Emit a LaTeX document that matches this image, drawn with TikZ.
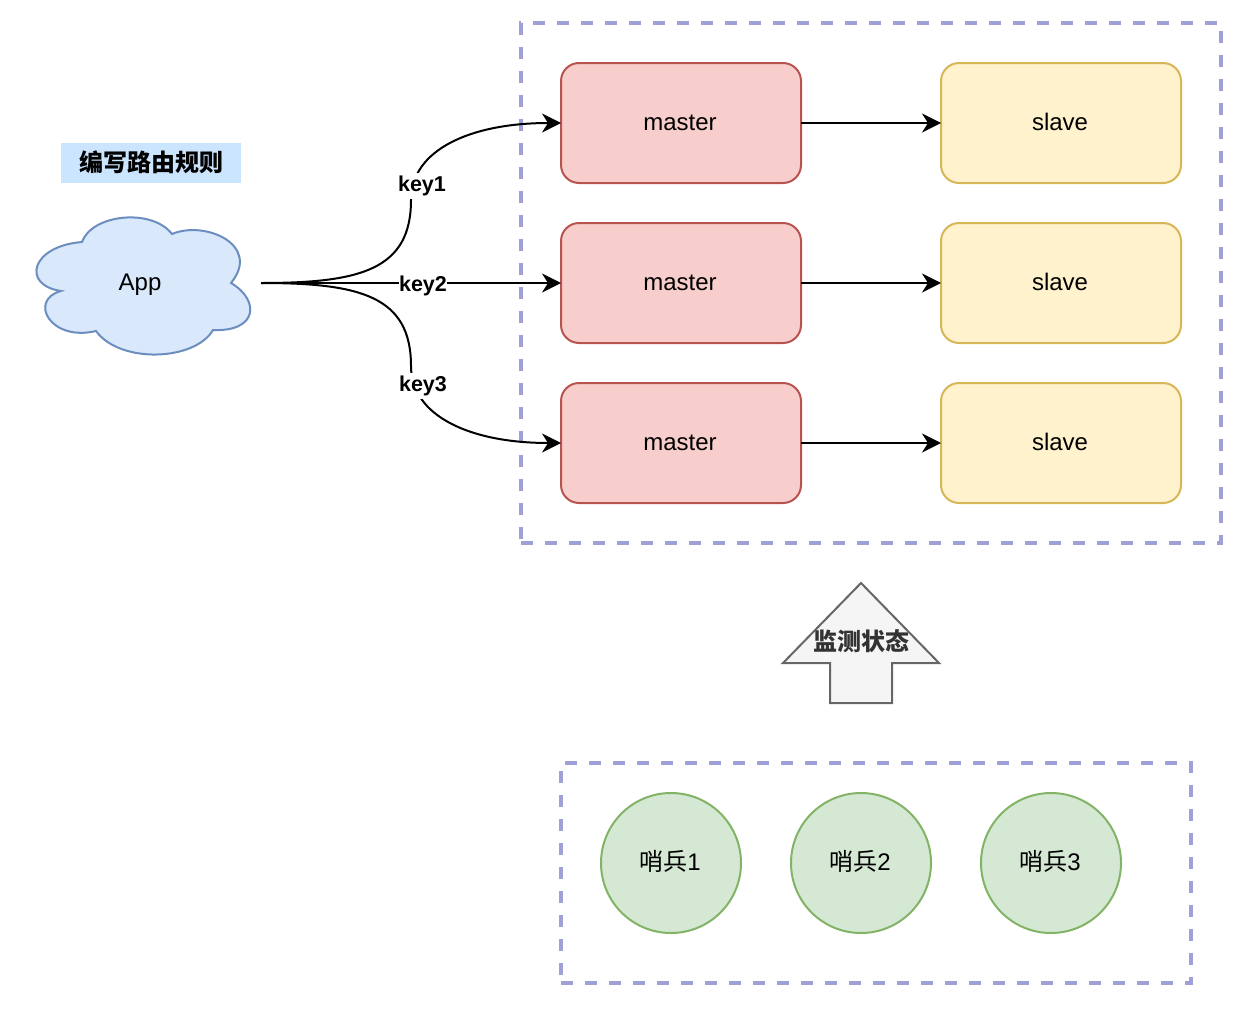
\documentclass[tikz,border=0pt]{standalone}
\usepackage{fontspec}
\setmainfont{Liberation Sans}
\newfontfamily\cjk{Noto Sans CJK SC}
\usepackage{xcolor}
\usetikzlibrary{
    arrows.meta,
    positioning
}
\definecolor{groupline}{HTML}{A0A0D8}
\definecolor{masterfill}{HTML}{F8CECC}
\definecolor{masterline}{HTML}{B85450}
\definecolor{slavefill}{HTML}{FFF2CC}
\definecolor{slaveline}{HTML}{D6B656}
\definecolor{sentinelfill}{HTML}{D5E8D4}
\definecolor{sentinelline}{HTML}{82B366}
\definecolor{cloudfill}{HTML}{DAE8FC}
\definecolor{cloudline}{HTML}{6C8EBF}
\definecolor{titlefill}{HTML}{CCE5FF}
\definecolor{statusfill}{HTML}{F5F5F5}
\definecolor{statusline}{HTML}{666666}
\tikzset{
    every node/.style={font=\fontsize{24}{28}\selectfont, inner sep=0pt, outer sep=0pt},
    group/.style={draw=groupline, line width=3.5pt, dash pattern=on 12pt off 12pt, minimum height=#1},
    redis/.style={rounded corners=18pt, line width=2pt, minimum width=240pt, minimum height=120pt},
    master/.style={redis, draw=masterline, fill=masterfill},
    slave/.style={redis, draw=slaveline, fill=slavefill},
    sentinel/.style={circle, draw=sentinelline, fill=sentinelfill, line width=2pt, minimum size=140pt},
    link/.style={line width=2pt, -{Stealth[length=19pt, width=19pt, inset=6pt]}},
    keylabel/.style={fill=white, font=\fontsize{21.5}{24}\selectfont\bfseries, minimum height=26pt}
}

\begin{document}
\begin{tikzpicture}[x=1pt, y=-1pt]
    \useasboundingbox (0, 0) rectangle (1244, 1020);

    \node[group=520pt, minimum width=700pt] (redisgroup) at (871, 283) {};
    \node[group=220pt, minimum width=630pt] (sentinelgroup) at (876, 873) {};

    % cloud
    \draw[draw=cloudline, fill=cloudfill, line width=2pt]
    (82, 242) .. controls (92, 214) and (152, 208) .. (172, 234)
    .. controls (205, 220) and (262, 245) .. (231, 283)
    .. controls (260, 300) and (258, 332) .. (213, 330)
    .. controls (195, 361) and (120, 364) .. (96, 331)
    .. controls (50, 342) and (28, 300) .. (61, 291)
    .. controls (21, 285) and (31, 246) .. (82, 242) -- cycle;
    \node[minimum width=240pt, minimum height=20pt] (app) at (141, 283) {};
    \node[anchor=base] at (140, 290) {App};

    \node[fill=titlefill, minimum width=180pt, minimum height=40pt] (title) at (151, 163)
    {\raisebox{3pt}{\cjk\bfseries 编写路由规则}};

    \node[master] (master1) at (681, 123) {};
    \node[master] (master2) at (681, 283) {};
    \node[master] (master3) at (681, 443) {};
    \node[slave] (slave1) at (1061, 123) {};
    \node[slave] (slave2) at (1061, 283) {};
    \node[slave] (slave3) at (1061, 443) {};
    \foreach \row/\ypos in {1/130, 2/290, 3/450} {
        \node[anchor=base] at (680, \ypos) {master};
        \node[anchor=base] at (1060, \ypos) {slave};
        \draw[link] (master\row.east) -- (slave\row.west);
    }

    \draw[link] (app.east) .. controls (360, 283) and (411, 270) .. (411, 200)
    .. controls (411, 150) and (470, 123) .. (master1.west);
    \draw[link] (app.east) -- (master2.west);
    \draw[link] (app.east) .. controls (360, 283) and (411, 296) .. (411, 366)
    .. controls (411, 416) and (470, 443) .. (master3.west);

    \node[keylabel] (key1) at (422, 186) {key1};
    \node[keylabel] (key2) at (423, 286) {key2};
    \node[keylabel] (key3) at (423, 386) {key3};

    % status arrow
    \draw[draw=statusline, fill=statusfill, line width=2pt]
    (861, 583) -- (939, 663) -- (892, 663) -- (892, 703) -- (830, 703)
    -- (830, 663) -- (783, 663) -- cycle;
    \node[text=black!80] (status) at (861, 641) {\cjk\bfseries 监测状态};

    \node[sentinel] (sentinel1) at (671, 863) {};
    \node[sentinel] (sentinel2) at (861, 863) {};
    \node[sentinel] (sentinel3) at (1051, 863) {};
    \foreach \num/\xpos in {1/670, 2/860, 3/1050} {
        \node at (\xpos, 861) {{\cjk 哨兵}\num};
    }
\end{tikzpicture}
\end{document}
